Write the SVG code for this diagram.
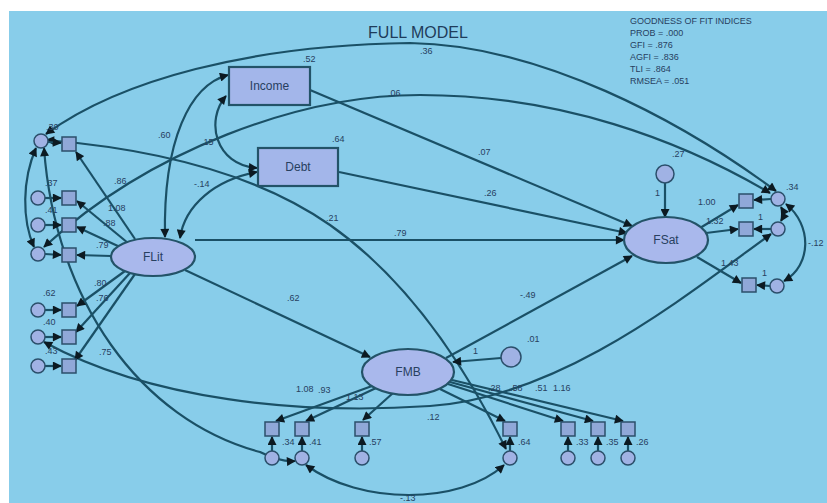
<svg xmlns="http://www.w3.org/2000/svg" width="827" height="503" viewBox="0 0 827 503">
<defs>
<marker id="ah" viewBox="0 0 10 10" refX="9" refY="5" markerWidth="11" markerHeight="9" markerUnits="userSpaceOnUse" orient="auto-start-reverse"><path d="M0,0 L10,5 L0,10 z" fill="#0c1a22"/></marker>
<style>
.c{fill:none;stroke:#1a5066;stroke-width:2.2}
.e{marker-end:url(#ah)}
.b{marker-start:url(#ah);marker-end:url(#ah)}
.t{font-family:"Liberation Sans",Arial,sans-serif;font-size:9px;fill:#27405f}
.big{font-family:"Liberation Sans",Arial,sans-serif;font-size:12px;fill:#27405f;text-anchor:middle}
.sq{fill:#90a8d8;stroke:#2b4f6b;stroke-width:1.5}
.er{fill:#a0b2e4;stroke:#2b4f6b;stroke-width:1.5}
.lv{fill:#a9b8ec;stroke:#235368;stroke-width:2.2}
.ob{fill:#a3b6ea;stroke:#235368;stroke-width:2.2}
</style>
</defs>
<rect width="827" height="503" fill="#ffffff"/>
<rect x="9" y="11" width="818" height="492" fill="#88cdea"/>
<text x="418" y="38" font-family="Liberation Sans, Arial, sans-serif" font-size="16" fill="#1f3c5a" text-anchor="middle">FULL MODEL</text>
<g id="fit">
<text class="t" x="630" y="24" font-size="9.5">GOODNESS OF FIT INDICES</text>
<text class="t" x="630" y="36">PROB = .000</text>
<text class="t" x="630" y="48">GFI = .876</text>
<text class="t" x="630" y="60">AGFI = .836</text>
<text class="t" x="630" y="72">TLI = .864</text>
<text class="t" x="630" y="84">RMSEA = .051</text>
</g>
<g id="connectors">
<path class="c b" d="M46,134 C120,80 250,45 410,43 C540,45 680,120 776,191"/>
<path class="c b" d="M44,247 C150,150 300,95 420,95 C560,95 680,140 770,193"/>
<path class="c b" d="M46,140 Q230,155 330,225 T506,449"/>
<path class="c b" d="M44,342 C150,400 300,415 430,406 C560,397 680,300 771,234"/>
<path class="c b" d="M44,148 C55,300 140,420 260,452 Q280,462 295,461"/>
<path class="c b" d="M306,465 C360,505 460,505 504,465"/>
<path class="c b" d="M36,148 C22,180 22,220 34,247"/>
<path class="c b" d="M786,204 C812,225 812,265 784,281"/>
<path class="c b" d="M781,207 Q785,214 781,221"/>
<path class="c b" d="M228,75 C190,85 163,140 165,237"/>
<path class="c b" d="M226,96 C205,120 215,165 257,168"/>
<path class="c b" d="M257,172 C215,180 185,205 180,238"/>
<path class="c e" d="M310,90 L632,226"/>
<path class="c e" d="M339,172 L627,233"/>
<path class="c e" d="M195,240 L624,240"/>
<path class="c e" d="M446,358 L632,256"/>
<path class="c e" d="M185,270 L370,357"/>
<path class="c e" d="M665,183 L665,217"/>
<path class="c e" d="M501,358 L453,362"/>
<path class="c e" d="M135,239 L76,152"/>
<path class="c e" d="M128,243 L77,201"/>
<path class="c e" d="M120,247 L77,227"/>
<path class="c e" d="M111,256 L77,255"/>
<path class="c e" d="M125,271 L77,306"/>
<path class="c e" d="M130,273 L76,332"/>
<path class="c e" d="M135,274 L75,360"/>
<path class="c e" d="M48,142 L61,143"/>
<path class="c e" d="M45,198 L61,198"/>
<path class="c e" d="M45,225 L61,225"/>
<path class="c e" d="M45,254 L61,255"/>
<path class="c e" d="M45,310 L61,310"/>
<path class="c e" d="M45,337 L61,337"/>
<path class="c e" d="M45,366 L61,366"/>
<path class="c e" d="M700,228 L738,205"/>
<path class="c e" d="M706,233 L738,229"/>
<path class="c e" d="M697,257 L741,283"/>
<path class="c e" d="M771,199 L754,200"/>
<path class="c e" d="M771,229 L754,229"/>
<path class="c e" d="M770,286 L757,285"/>
<path class="c e" d="M372,386 L276,421"/>
<path class="c e" d="M376,388 L306,421"/>
<path class="c e" d="M393,393 L363,420"/>
<path class="c e" d="M440,389 L505,421"/>
<path class="c e" d="M448,384 L563,421"/>
<path class="c e" d="M450,382 L593,421"/>
<path class="c e" d="M452,380 L623,421"/>
<path class="c e" d="M272,451 L272,437"/>
<path class="c e" d="M302,451 L302,437"/>
<path class="c e" d="M362,451 L362,437"/>
<path class="c e" d="M510,451 L510,437"/>
<path class="c e" d="M568,451 L568,437"/>
<path class="c e" d="M598,451 L598,437"/>
<path class="c e" d="M628,451 L628,437"/>
</g>
<g id="Income"><rect class="ob" x="229" y="67" width="81" height="38"/><text class="big" x="269.5" y="90">Income</text></g>
<g id="Debt"><rect class="ob" x="258" y="148" width="80" height="38"/><text class="big" x="298" y="171">Debt</text></g>
<g id="FLit"><ellipse class="lv" cx="153" cy="257" rx="42" ry="19"/><text class="big" x="153" y="261">FLit</text></g>
<g id="FSat"><ellipse class="lv" cx="666" cy="240" rx="42" ry="23"/><text class="big" x="666" y="244">FSat</text></g>
<g id="FMB"><ellipse class="lv" cx="408" cy="372" rx="46" ry="23"/><text class="big" x="408" y="376">FMB</text></g>
<g id="z2"><circle class="er" cx="665" cy="174" r="9"/></g>
<g id="z3"><circle class="er" cx="511" cy="357" r="10"/></g>
<g id="leftIndicators">
<rect class="sq" x="62" y="137" width="14" height="14"/>
<rect class="sq" x="62" y="191" width="14" height="14"/>
<rect class="sq" x="62" y="218" width="14" height="14"/>
<rect class="sq" x="62" y="248" width="14" height="14"/>
<rect class="sq" x="62" y="303" width="14" height="14"/>
<rect class="sq" x="62" y="330" width="14" height="14"/>
<rect class="sq" x="62" y="359" width="14" height="14"/>
<circle class="er" cx="41" cy="141" r="7"/>
<circle class="er" cx="38" cy="198" r="7"/>
<circle class="er" cx="38" cy="225" r="7"/>
<circle class="er" cx="38" cy="254" r="7"/>
<circle class="er" cx="38" cy="310" r="7"/>
<circle class="er" cx="38" cy="337" r="7"/>
<circle class="er" cx="38" cy="366" r="7"/>
</g>
<g id="rightIndicators">
<rect class="sq" x="739" y="194" width="14" height="14"/>
<rect class="sq" x="739" y="222" width="14" height="14"/>
<rect class="sq" x="742" y="278" width="14" height="14"/>
<circle class="er" cx="778" cy="199" r="7"/>
<circle class="er" cx="778" cy="229" r="7"/>
<circle class="er" cx="777" cy="286" r="7"/>
</g>
<g id="bottomIndicators">
<rect class="sq" x="265" y="422" width="14" height="14"/>
<rect class="sq" x="295" y="422" width="14" height="14"/>
<rect class="sq" x="355" y="422" width="14" height="14"/>
<rect class="sq" x="503" y="422" width="14" height="14"/>
<rect class="sq" x="561" y="422" width="14" height="14"/>
<rect class="sq" x="591" y="422" width="14" height="14"/>
<rect class="sq" x="621" y="422" width="14" height="14"/>
<circle class="er" cx="272" cy="458" r="7"/>
<circle class="er" cx="302" cy="458" r="7"/>
<circle class="er" cx="362" cy="458" r="7"/>
<circle class="er" cx="510" cy="458" r="7"/>
<circle class="er" cx="568" cy="458" r="7"/>
<circle class="er" cx="598" cy="458" r="7"/>
<circle class="er" cx="628" cy="458" r="7"/>
</g>
<g id="labels">
<text class="t" x="420" y="54">.36</text>
<text class="t" x="303" y="62">.52</text>
<text class="t" x="332" y="142">.64</text>
<text class="t" x="158" y="138">.60</text>
<text class="t" x="201" y="145">.15</text>
<text class="t" x="194" y="187">-.14</text>
<text class="t" x="388" y="96">.06</text>
<text class="t" x="478" y="155">.07</text>
<text class="t" x="484" y="196">.26</text>
<text class="t" x="394" y="236">.79</text>
<text class="t" x="520" y="298">-.49</text>
<text class="t" x="326" y="221">.21</text>
<text class="t" x="287" y="301">.62</text>
<text class="t" x="672" y="157">.27</text>
<text class="t" x="655" y="196">1</text>
<text class="t" x="698" y="205">1.00</text>
<text class="t" x="706" y="224">1.32</text>
<text class="t" x="758" y="220">1</text>
<text class="t" x="721" y="266">1.43</text>
<text class="t" x="762" y="276">1</text>
<text class="t" x="786" y="190">.34</text>
<text class="t" x="808" y="246">-.12</text>
<text class="t" x="473" y="354">1</text>
<text class="t" x="527" y="342">.01</text>
<text class="t" x="46" y="130">.30</text>
<text class="t" x="114" y="184">.86</text>
<text class="t" x="108" y="211">1.08</text>
<text class="t" x="103" y="226">.88</text>
<text class="t" x="96" y="248">.79</text>
<text class="t" x="45" y="186">.37</text>
<text class="t" x="45" y="213">.41</text>
<text class="t" x="94" y="286">.80</text>
<text class="t" x="96" y="301">.76</text>
<text class="t" x="99" y="355">.75</text>
<text class="t" x="43" y="296">.62</text>
<text class="t" x="43" y="325">.40</text>
<text class="t" x="45" y="354">.43</text>
<text class="t" x="296" y="392">1.08</text>
<text class="t" x="318" y="393">.93</text>
<text class="t" x="346" y="400">1.13</text>
<text class="t" x="488" y="391">.28</text>
<text class="t" x="510" y="391">.58</text>
<text class="t" x="535" y="391">.51</text>
<text class="t" x="553" y="391">1.16</text>
<text class="t" x="427" y="420">.12</text>
<text class="t" x="282" y="445">.34</text>
<text class="t" x="309" y="445">.41</text>
<text class="t" x="369" y="445">.57</text>
<text class="t" x="518" y="445">.64</text>
<text class="t" x="576" y="445">.33</text>
<text class="t" x="606" y="445">.35</text>
<text class="t" x="636" y="445">.26</text>
<text class="t" x="400" y="501">-.13</text>
</g>
</svg>
